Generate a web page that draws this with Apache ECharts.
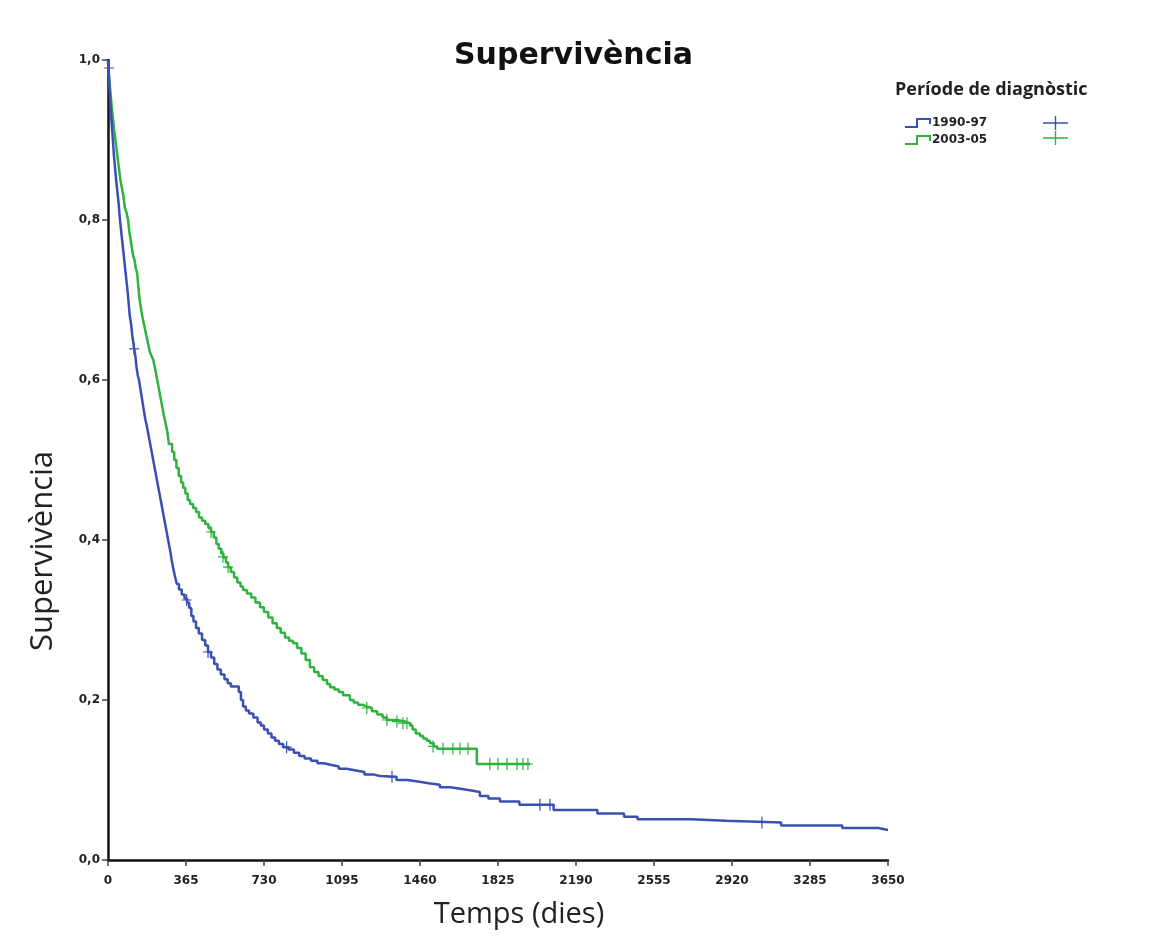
<!DOCTYPE html>
<html>
<head>
<meta charset="utf-8">
<title>Supervivència</title>
<script src="https://cdn.jsdelivr.net/npm/echarts@6/dist/echarts.min.js"></script>
<style>
  html, body { margin: 0; padding: 0; background: #fff; }
  #main { width: 1176px; height: 942px; }
</style>
</head>
<body>
<div id="main"></div>
<script>
// corbes de Kaplan-Meier (dies, supervivència), llegides del gràfic
var blueDays = [0, 3, 6, 9, 12, 16, 20, 24, 28, 33, 38, 44, 50, 56, 62, 68, 74, 80, 86, 92,
    97, 102, 108, 114, 122, 128, 134, 140, 145, 151, 157, 163, 169, 175, 180, 187, 194, 201, 208, 215,
    222, 229, 236, 243, 250, 257, 264, 271, 278, 285, 292, 298, 305, 313, 322, 332, 345, 358, 370, 380,
    390, 400, 412, 425, 440, 455, 468, 482, 497, 512, 528, 545, 560, 575, 612, 622, 632, 645, 660, 680,
    700, 715, 730, 748, 765, 782, 800, 820, 845, 870, 895, 920, 950, 980, 1010, 1040, 1080, 1117, 1160, 1200,
    1240, 1273, 1350, 1400, 1450, 1500, 1553, 1600, 1650, 1700, 1740, 1780, 1834, 1925, 2085, 2290, 2415, 2478, 2728, 2892,
    3150, 3436, 3605, 3650];
var blueSurv = [1.0, 0.985, 0.97, 0.955, 0.94, 0.925, 0.91, 0.895, 0.88, 0.865, 0.85, 0.835, 0.82, 0.80, 0.785, 0.77, 0.755, 0.74, 0.725, 0.71,
    0.695, 0.68, 0.67, 0.655, 0.64, 0.63, 0.615, 0.605, 0.60, 0.59, 0.58, 0.57, 0.56, 0.55, 0.545, 0.535, 0.525, 0.515, 0.505, 0.495,
    0.485, 0.475, 0.465, 0.455, 0.445, 0.435, 0.425, 0.415, 0.405, 0.395, 0.385, 0.375, 0.365, 0.355, 0.345, 0.338, 0.332, 0.327, 0.322, 0.315,
    0.305, 0.298, 0.29, 0.283, 0.275, 0.268, 0.26, 0.253, 0.245, 0.238, 0.232, 0.226, 0.221, 0.217, 0.21, 0.2, 0.192, 0.187, 0.183, 0.178,
    0.172, 0.168, 0.163, 0.158, 0.153, 0.149, 0.145, 0.141, 0.138, 0.134, 0.13, 0.127, 0.124, 0.121, 0.119, 0.117, 0.114, 0.112, 0.11, 0.107,
    0.105, 0.104, 0.1, 0.098, 0.096, 0.094, 0.091, 0.089, 0.087, 0.085, 0.08, 0.077, 0.073, 0.069, 0.0625, 0.058, 0.054, 0.051, 0.049, 0.047,
    0.043, 0.04, 0.0375, 0.0375];
var blueCensDays = [5, 122, 368, 468, 836, 1329, 2021, 2068, 3060];
var blueCensSurv = [0.99, 0.639, 0.325, 0.26, 0.141, 0.104, 0.069, 0.069, 0.047];

var greenDays = [0, 4, 8, 13, 18, 24, 30, 37, 44, 51, 58, 65, 72, 79, 86, 94, 100, 106, 112, 118,
    124, 130, 136, 141, 146, 151, 157, 164, 172, 180, 188, 196, 204, 212, 220, 227, 234, 241, 248, 255,
    262, 270, 278, 285, 300, 310, 320, 331, 342, 352, 362, 373, 384, 398, 412, 426, 440, 455, 470, 482,
    495, 507, 518, 530, 540, 552, 562, 575, 590, 605, 620, 632, 650, 670, 690, 711, 730, 750, 770, 790,
    808, 828, 847, 866, 885, 905, 925, 945, 965, 985, 1005, 1025, 1039, 1060, 1080, 1100, 1132, 1150, 1170, 1190,
    1211, 1235, 1260, 1285, 1305, 1350, 1390, 1413, 1425, 1440, 1460, 1475, 1492, 1507, 1525, 1540, 1726, 1975];
var greenSurv = [1.0, 0.985, 0.97, 0.955, 0.94, 0.925, 0.91, 0.895, 0.88, 0.865, 0.85, 0.84, 0.83, 0.815, 0.81, 0.80, 0.785, 0.775, 0.765, 0.755,
    0.75, 0.74, 0.734, 0.72, 0.705, 0.695, 0.685, 0.675, 0.665, 0.655, 0.645, 0.635, 0.63, 0.625, 0.615, 0.605, 0.595, 0.585, 0.575, 0.565,
    0.555, 0.545, 0.535, 0.52, 0.51, 0.50, 0.49, 0.48, 0.472, 0.465, 0.458, 0.45, 0.445, 0.44, 0.435, 0.428, 0.424, 0.42, 0.415, 0.41,
    0.403, 0.395, 0.389, 0.383, 0.378, 0.372, 0.366, 0.36, 0.353, 0.347, 0.342, 0.3375, 0.333, 0.328, 0.322, 0.316, 0.31, 0.303, 0.296, 0.29,
    0.284, 0.278, 0.274, 0.271, 0.265, 0.258, 0.25, 0.241, 0.235, 0.23, 0.225, 0.22, 0.216, 0.213, 0.21, 0.206, 0.2, 0.197, 0.194, 0.192,
    0.19, 0.186, 0.182, 0.178, 0.175, 0.173, 0.171, 0.168, 0.163, 0.158, 0.155, 0.152, 0.149, 0.146, 0.142, 0.139, 0.12, 0.12];
var greenCensDays = [482, 538, 562, 1211, 1305, 1352, 1380, 1399, 1521, 1568, 1614, 1647, 1685, 1787, 1825, 1867, 1914, 1942, 1965];
var greenCensSurv = [0.41, 0.379, 0.366, 0.19, 0.175, 0.173, 0.171, 0.171, 0.142, 0.139, 0.139, 0.139, 0.139, 0.12, 0.12, 0.12, 0.12, 0.12, 0.12];

var xTicks = [0, 365, 730, 1095, 1460, 1825, 2190, 2555, 2920, 3285, 3650];
var yTicks = [0, 0.2, 0.4, 0.6, 0.8, 1.0];

var blueColor = '#3b4fb3';
var greenColor = '#2fb23f';
var stepIcon = 'path://M0,8H11V0H26V6H24V2H13V10H0Z';
var crossIcon = 'path://M0,5.4H10V6.6H0Z M4.4,0H5.6V12H4.4Z';
var legendCross = 'path://M0,6.3H25V7.7H0Z M11.8,0H13.2V14H11.8Z';

function zip(a, b) {
    var out = [];
    for (var i = 0; i < a.length; i++) {
        out.push([a[i], b[i]]);
    }
    return out;
}

var myChart = echarts.init(document.getElementById('main'));
var font = '"DejaVu Sans", Verdana, sans-serif';
var humanist = '"Open Sans", "Noto Sans", sans-serif';

option = {
    backgroundColor: '#fff',
    animation: false,
    title: {
        text: 'Supervivència',
        left: 449,
        top: 36,
        textStyle: { fontFamily: font, fontSize: 30, fontWeight: 'bold', color: '#111' }
    },
    legend: [
        {
            orient: 'vertical',
            left: 900,
            top: 112,
            itemWidth: 26,
            itemHeight: 10,
            itemGap: 5,
            selectedMode: false,
            textStyle: { fontFamily: font, fontSize: 12, fontWeight: 'bold', color: '#222', padding: [0, 0, 0, -4] },
            data: [
                { name: '1990-97', icon: stepIcon },
                { name: '2003-05', icon: stepIcon }
            ]
        },
        {
            orient: 'vertical',
            left: 1038,
            top: 111,
            itemWidth: 25,
            itemHeight: 14,
            itemGap: 1,
            selectedMode: false,
            formatter: function () { return ''; },
            data: [
                { name: '1990-97 cens', icon: legendCross },
                { name: '2003-05 cens', icon: legendCross }
            ]
        }
    ],
    grid: { left: 108, right: 288, top: 60, bottom: 82 },
    xAxis: {
        type: 'value',
        min: 0,
        max: 3650,
        interval: 365,
        axisLine: { show: true, lineStyle: { color: '#111', width: 2.5 } },
        axisTick: { show: true, length: 6, lineStyle: { color: '#444', width: 1.5 } },
        axisLabel: {
            margin: 15,
            fontFamily: font, fontSize: 12, fontWeight: 'bold', color: '#222',
            formatter: function (v) { return xTicks.indexOf(v) >= 0 ? String(v) : ''; }
        },
        splitLine: { show: false }
    },
    yAxis: {
        type: 'value',
        min: 0,
        max: 1,
        interval: 0.2,
        axisLine: { show: true, lineStyle: { color: '#111', width: 2.5 } },
        axisTick: { show: true, length: 6, lineStyle: { color: '#444', width: 1.5 } },
        axisLabel: {
            margin: 8,
            fontFamily: font, fontSize: 12, fontWeight: 'bold', color: '#222',
            formatter: function (v) {
                var t = yTicks.filter(function (y) { return Math.abs(y - v) < 1e-6; });
                return t.length ? t[0].toFixed(1).replace('.', ',') : '';
            }
        },
        splitLine: { show: false }
    },
    graphic: [
        {
            type: 'text',
            x: 895,
            y: 90,
            style: {
                text: 'Període de diagnòstic',
                font: 'bold 18px ' + humanist,
                fill: '#222',
                textAlign: 'left',
                textVerticalAlign: 'middle'
            }
        },
        {
            type: 'text',
            x: 519,
            y: 915,
            style: {
                text: 'Temps (dies)',
                font: '29px ' + humanist,
                fill: '#222',
                textAlign: 'center',
                textVerticalAlign: 'middle'
            }
        },
        {
            type: 'text',
            x: 43,
            y: 551,
            rotation: Math.PI / 2,
            style: {
                text: 'Supervivència',
                font: '31px ' + humanist,
                fill: '#222',
                textAlign: 'center',
                textVerticalAlign: 'middle'
            }
        }
    ],
    series: [
        {
            name: '1990-97',
            type: 'line',
            step: 'end',
            showSymbol: false,
            color: blueColor,
            lineStyle: { width: 2.5, color: blueColor },
            data: zip(blueDays, blueSurv),
            z: 3
        },
        {
            name: '2003-05',
            type: 'line',
            step: 'end',
            showSymbol: false,
            color: greenColor,
            lineStyle: { width: 2.5, color: greenColor },
            data: zip(greenDays, greenSurv),
            z: 2
        },
        {
            name: '1990-97 cens',
            type: 'scatter',
            symbol: crossIcon,
            symbolSize: [10, 12],
            color: blueColor,
            itemStyle: { color: blueColor, opacity: 1 },
            data: zip(blueCensDays, blueCensSurv),
            z: 4
        },
        {
            name: '2003-05 cens',
            type: 'scatter',
            symbol: crossIcon,
            symbolSize: [10, 12],
            color: greenColor,
            itemStyle: { color: greenColor, opacity: 1 },
            data: zip(greenCensDays, greenCensSurv),
            z: 4
        }
    ]
};

myChart.setOption(option);
</script>
</body>
</html>
